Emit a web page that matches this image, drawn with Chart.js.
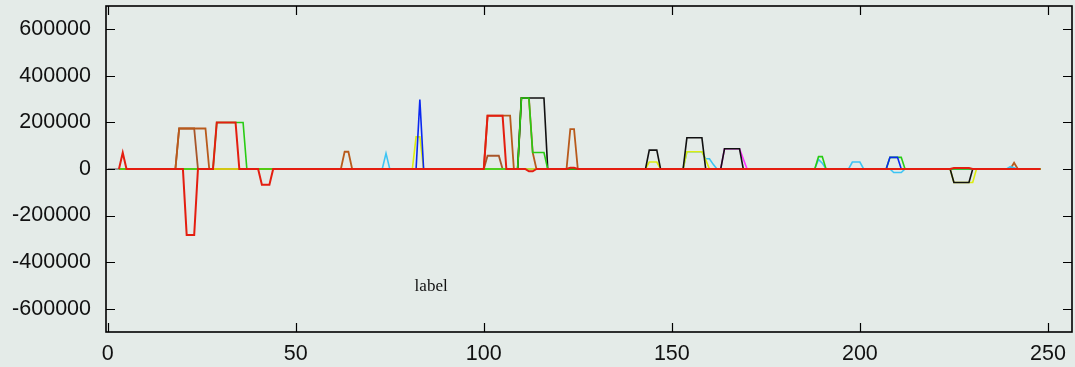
<!DOCTYPE html>
<html>
<head>
<meta charset="utf-8">
<script src="https://cdn.jsdelivr.net/npm/chart.js@4/dist/chart.umd.min.js"></script>
<style>
  html, body { margin: 0; padding: 0; background: #e4ebe8; }
  #wrap { width: 1075px; height: 367px; }
</style>
</head>
<body>
<div id="wrap"><canvas id="c" width="1075" height="367"></canvas></div>
<script>
// ---- data (x, y breakpoints per series; null = gap) ----
const redPts = [[3,0],[4,70000],[5,0],[20,0],[21,-283000],[23,-283000],[24,0],[28,0],[29,200000],[34,200000],[35,0],[40,0],[41,-68000],[43,-68000],[44,0],[100,0],[101,229000],[105,229000],[106,0],[111,0],[112,-10000],[113,-10000],[114,0],[122,0],[123,5000],[124,5000],[125,0],[224,0],[225,4000],[229,4000],[230,0],[248,0]];
const bluePts = [[81,0],[82,0],[83,298000],[84,0],[85,0],[86,null],[206,0],[207,0],[208,50000],[210,50000],[211,0],[213,0]];
const greenPts = [[3,0],[28,0],[29,200000],[36,200000],[37,0],[109,0],[110,305000],[112,305000],[113,71000],[116,71000],[117,0],[188,0],[189,53000],[190,53000],[191,0],[207,0],[208,50000],[211,50000],[212,0],[248,0]];
const blackPts = [[108,0],[109,0],[110,305000],[116,305000],[117,0],[143,0],[144,81000],[146,81000],[147,0],[153,0],[154,134000],[158,134000],[159,0],[163,0],[164,87000],[168,87000],[169,0],[224,0],[225,-58000],[229,-58000],[230,0],[231,0]];
const yellowPts = [[3,0],[81,0],[82,138000],[83,138000],[84,0],[143,0],[144,30000],[146,30000],[147,0],[153,0],[154,74000],[158,74000],[159,40000],[160,0],[224,0],[225,-58000],[230,-58000],[231,0],[248,0]];
const cyanPts = [[72,0],[73,0],[74,67000],[75,0],[153,0],[154,74000],[158,74000],[159,44000],[160,44000],[161,20000],[162,0],[188,0],[189,41000],[190,25000],[191,0],[197,0],[198,30000],[200,30000],[201,0],[208,0],[209,-15000],[211,-15000],[212,0],[239,0],[240,10000],[241,5000],[242,0],[243,0]];
const magentaPts = [[162,0],[163,0],[164,87000],[168,87000],[170,0],[171,0]];
const orangePts = [[3,0],[18,0],[19,174000],[26,174000],[27,0],[62,0],[63,74000],[64,74000],[65,0],[100,0],[101,229000],[107,229000],[108,0],[109,0],[110,305000],[112,305000],[113,71000],[114,0],[122,0],[123,171000],[124,171000],[125,0],[240,0],[241,27000],[242,0],[248,0]];
const brownPts = [[3,0],[18,0],[19,174000],[23,174000],[24,0],[100,0],[101,57000],[104,57000],[105,0],[248,0]];
const grayPts = [[0,0],[248,0]];

const xTicks = [0, 50, 100, 150, 200, 250];
const yTicks = [-600000, -400000, -200000, 0, 200000, 400000, 600000];
const xRange = [-0.45, 256.4];
const yRange = [-700000, 700000];
const labelText = "label";
const labelPos = [86, -525000];

// ---- build ----
const toXY = pts => pts.map(p => ({x: p[0], y: p[1]}));
const series = [
  {pts: redPts, color: '#e41e10', w: 2},
  {pts: bluePts, color: '#0a28f0', w: 1.6},
  {pts: greenPts, color: '#28cc14', w: 1.6},
  {pts: blackPts, color: '#111111', w: 1.6},
  {pts: yellowPts, color: '#dcec10', w: 1.6},
  {pts: cyanPts, color: '#3cc4f4', w: 1.6},
  {pts: magentaPts, color: '#ff30ff', w: 1.6},
  {pts: orangePts, color: '#b85a1c', w: 1.8},
  {pts: brownPts, color: '#a8562a', w: 1.8},
  {pts: grayPts, color: '#9a9a9a', w: 1.8}
];

const bgPlugin = {
  id: 'bg',
  beforeDraw(chart) {
    const ctx = chart.ctx;
    ctx.save();
    ctx.fillStyle = '#e4ebe8';
    ctx.fillRect(0, 0, chart.width, chart.height);
    ctx.restore();
  },
  afterDraw(chart) {
    const ctx = chart.ctx;
    const a = chart.chartArea;
    const xs = chart.scales.x, ys = chart.scales.y;
    ctx.save();
    ctx.strokeStyle = '#000';
    ctx.lineWidth = 1.2;
    const tl = 9;
    ctx.beginPath();
    ys.ticks.forEach(t => {
      const py = Math.round(ys.getPixelForValue(t.value)) + 0.5;
      ctx.moveTo(a.left, py); ctx.lineTo(a.left + tl, py);
      ctx.moveTo(a.right, py); ctx.lineTo(a.right - tl, py);
    });
    xs.ticks.forEach(t => {
      const px = Math.round(xs.getPixelForValue(t.value)) + 0.5;
      ctx.moveTo(px, a.bottom); ctx.lineTo(px, a.bottom - tl);
      ctx.moveTo(px, a.top); ctx.lineTo(px, a.top + tl);
    });
    ctx.stroke();
    ctx.lineWidth = 1.6;
    ctx.strokeRect(a.left, a.top, a.right - a.left, a.bottom - a.top);
    // label
    ctx.fillStyle = '#111';
    ctx.font = '17px "Liberation Serif", "DejaVu Serif", serif';
    ctx.textAlign = 'center';
    ctx.textBaseline = 'alphabetic';
    ctx.fillText(labelText, xs.getPixelForValue(labelPos[0]), ys.getPixelForValue(labelPos[1]));
    ctx.restore();
  }
};

const zeroPad = s => { s.paddingTop = 0; s.paddingBottom = 0; s.paddingLeft = 0; s.paddingRight = 0; };

new Chart(document.getElementById('c'), {
  type: 'line',
  data: {
    datasets: series.map((s, i) => ({
      data: toXY(s.pts),
      borderColor: s.color,
      borderWidth: s.w,
      pointRadius: 0,
      tension: 0,
      fill: false,
      spanGaps: false,
      order: i
    }))
  },
  options: {
    responsive: false,
    animation: false,
    devicePixelRatio: 1,
    layout: { padding: { top: 6, right: 3, left: 0, bottom: 0 } },
    plugins: { legend: { display: false }, tooltip: { enabled: false } },
    scales: {
      x: {
        type: 'linear',
        min: xRange[0], max: xRange[1],
        grid: { display: false, drawTicks: false },
        border: { display: false },
        afterBuildTicks: s => { s.ticks = xTicks.map(v => ({value: v})); },
        afterFit: s => { s.height = 35; zeroPad(s); },
        ticks: {
          color: '#111',
          font: { family: '"Liberation Sans", Arial, sans-serif', size: 21.5 },
          padding: 9,
          maxRotation: 0,
          autoSkip: false,
          callback: v => String(v)
        }
      },
      y: {
        type: 'linear',
        min: yRange[0], max: yRange[1],
        grid: { display: false, drawTicks: false },
        border: { display: false },
        afterBuildTicks: s => { s.ticks = yTicks.map(v => ({value: v})); },
        afterFit: s => { s.width = 106; zeroPad(s); },
        ticks: {
          color: '#111',
          font: { family: '"Liberation Sans", Arial, sans-serif', size: 21.5 },
          padding: 15,
          autoSkip: false,
          callback: v => String(v)
        }
      }
    }
  },
  plugins: [bgPlugin]
});
</script>
</body>
</html>
